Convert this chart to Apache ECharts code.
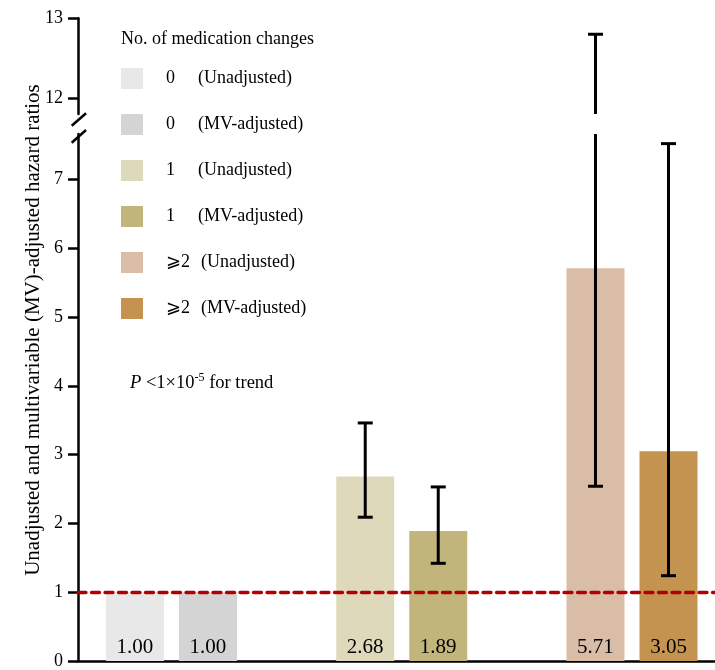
<!DOCTYPE html>
<html><head><meta charset="utf-8">
<script src="https://cdn.jsdelivr.net/npm/echarts@6/dist/echarts.min.js"></script>
<style>html,body{margin:0;padding:0;background:#fff}#c{width:715px;height:670px}</style>
</head><body><div id="c"></div>
<script>
// ---------------- data ----------------
const groups = ['0', '1', '⩾2'];
const groupPos = [0, 1, 2];
const adjustTypes = ['(Unadjusted)', '(MV-adjusted)'];
const unadjusted = [1.00, 2.68, 5.71];
const mvAdjusted = [1.00, 1.89, 3.05];
const unadjLower = [null, 2.09, 2.54];
const unadjUpper = [null, 3.46, 12.80];
const mvLower = [null, 1.42, 1.24];
const mvUpper = [null, 2.53, 7.52];
const lowerTicks = [0, 1, 2, 3, 4, 5, 6, 7];
const upperTicks = [12, 13];
const referenceLine = 1;
const legendTitle = 'No. of medication changes';
const yTitle = 'Unadjusted and multivariable (MV)-adjusted hazard ratios';
const unadjColors = ['#e8e8e8', '#dfd9bc', '#d9bda7'];
const mvColors = ['#d4d4d4', '#c1b57b', '#c4934f'];

// ---------------- style / layout ----------------
const FONT = 'Liberation Serif, Times New Roman, serif';
const BAR_W = 58, BAR_GAP = 15;
const LOWER_EXT = [0, 7.66];
const UPPER_EXT = [11.80, 13];
const X_EXT = [-0.406, 2.3605];
const AXIS_W = 2.5;

const chart = echarts.init(document.getElementById('c'), null, {renderer: 'canvas'});

const barSeries = [];
const legendNames = [];
groups.forEach((g, i) => {
  [[unadjusted, unadjColors, 'U'], [mvAdjusted, mvColors, 'MV']].forEach(([vals, cols, st], j) => {
    const name = g + ' ' + adjustTypes[j];
    legendNames.push(name);
    barSeries.push({
      name, type: 'bar', stack: st, xAxisIndex: 0, yAxisIndex: 0,
      barWidth: BAR_W, barGap: (BAR_GAP / BAR_W * 100).toFixed(1) + '%',
      itemStyle: {color: cols[i]},
      data: groupPos.map((x, k) => k === i ? [x, vals[k]] : [x, '-']),
      label: {show: true, position: 'insideBottom', distance: 3, color: '#000',
              fontFamily: FONT, fontSize: 21,
              formatter: p => Number(p.value[1]).toFixed(2)},
      emphasis: {disabled: true}, silent: true
    });
  });
});
barSeries[0].markLine = {
  silent: true, symbol: 'none', label: {show: false},
  lineStyle: {color: '#b00000', width: 3.3, type: [8, 5.5], cap: 'round'},
  data: [{yAxis: referenceLine}]
};

function errData() {
  const d = [];
  groupPos.forEach((x, i) => {
    if (unadjLower[i] != null) d.push([x, unadjLower[i], unadjUpper[i], -1]);
    if (mvLower[i] != null) d.push([x, mvLower[i], mvUpper[i], 1]);
  });
  return d;
}
function makeErrRender(ext) {
  return function (params, api) {
    const x = api.value(0), lo = api.value(1), hi = api.value(2), side = api.value(3);
    const a = Math.max(lo, ext[0]), b = Math.min(hi, ext[1]);
    if (!(a < b)) return null;
    const off = side * (BAR_W + BAR_GAP) / 2;
    const p1 = api.coord([x, a]), p2 = api.coord([x, b]);
    const cx = p1[0] + off;
    const st = {stroke: '#000', lineWidth: 3};
    const ch = [{type: 'line', shape: {x1: cx, y1: p1[1], x2: cx, y2: p2[1]}, style: st}];
    if (lo >= ext[0]) ch.push({type: 'line', shape: {x1: cx - 7.5, y1: p1[1], x2: cx + 7.5, y2: p1[1]}, style: st});
    if (hi <= ext[1]) ch.push({type: 'line', shape: {x1: cx - 7.5, y1: p2[1], x2: cx + 7.5, y2: p2[1]}, style: st});
    return {type: 'group', children: ch};
  };
}

const yAxisCommon = {
  type: 'value',
  axisLine: {show: true, onZero: false, lineStyle: {color: '#000', width: AXIS_W}},
  axisTick: {show: true, inside: false, length: 10, lineStyle: {color: '#000', width: AXIS_W}},
  axisLabel: {color: '#000', fontFamily: FONT, fontSize: 18, margin: 15},
  splitLine: {show: false}
};

const option = {
  animation: false,
  backgroundColor: '#fff',
  title: {
    text: legendTitle, left: 121, top: 30, padding: 0,
    textStyle: {fontFamily: FONT, fontSize: 18, fontWeight: 'normal', color: '#000'}
  },
  legend: {
    data: legendNames, orient: 'vertical', left: 121, top: 68, padding: 0,
    itemWidth: 22, itemHeight: 21, itemGap: 25, icon: 'rect',
    selectedMode: false,
    formatter: name => {
      const k = name.indexOf(' ');
      const g = name.slice(0, k), t = name.slice(k + 1);
      return (g.length > 1 ? '{g2|' : '{g|') + g + '}{t|' + t + '}';
    },
    textStyle: {
      color: '#000', fontFamily: FONT, fontSize: 18,
      rich: {
        g: {fontFamily: FONT, fontSize: 18, width: 32, padding: [0, 0, 0, 18]},
        g2: {fontFamily: FONT, fontSize: 18, width: 35, padding: [0, 0, 0, 18]},
        t: {fontFamily: FONT, fontSize: 18}
      }
    }
  },
  grid: [
    {left: 78, right: 0, top: 134, bottom: 5},
    {left: 78, right: 0, top: 18.3, height: 114 - 18.3}
  ],
  xAxis: [
    {type: 'value', gridIndex: 0, min: X_EXT[0], max: X_EXT[1],
     axisLine: {show: true, onZero: false, lineStyle: {color: '#000', width: AXIS_W}},
     axisTick: {show: false}, axisLabel: {show: false}, splitLine: {show: false}},
    {type: 'value', gridIndex: 1, min: X_EXT[0], max: X_EXT[1], show: false,
     splitLine: {show: false}}
  ],
  yAxis: [
    Object.assign({}, yAxisCommon, {gridIndex: 0, min: LOWER_EXT[0], max: LOWER_EXT[1], interval: 1,
      axisLabel: Object.assign({}, yAxisCommon.axisLabel, {customValues: lowerTicks}),
      axisTick: Object.assign({}, yAxisCommon.axisTick, {customValues: lowerTicks})}),
    Object.assign({}, yAxisCommon, {gridIndex: 1, min: UPPER_EXT[0], max: UPPER_EXT[1],
      axisLabel: Object.assign({}, yAxisCommon.axisLabel, {customValues: upperTicks}),
      axisTick: Object.assign({}, yAxisCommon.axisTick, {customValues: upperTicks})})
  ],
  series: barSeries.concat([
    {type: 'custom', name: 'err-lower', xAxisIndex: 0, yAxisIndex: 0, silent: true,
     renderItem: makeErrRender(LOWER_EXT), data: errData(), z: 5},
    {type: 'custom', name: 'err-upper', xAxisIndex: 1, yAxisIndex: 1, silent: true,
     renderItem: makeErrRender(UPPER_EXT), data: errData(), z: 5}
  ]),
  graphic: [
    {type: 'text', x: 33, y: 330, rotation: Math.PI / 2,
     style: {text: yTitle, fill: '#000', font: '21px ' + FONT, align: 'center', verticalAlign: 'middle'}},
    {type: 'text', left: 130, top: 372,
     style: {text: '{i|P} <1×10{s|-5} for trend', fill: '#000', font: '18.5px ' + FONT,
       rich: {i: {fontStyle: 'italic', fontSize: 18.5, fontFamily: FONT, lineHeight: 22},
              s: {fontSize: 12, fontFamily: FONT, verticalAlign: 'top', lineHeight: 22}}}},
    {type: 'line', shape: {x1: 71.7, y1: 125.7, x2: 86, y2: 113.3}, style: {stroke: '#000', lineWidth: 2.5}},
    {type: 'line', shape: {x1: 71.7, y1: 142.7, x2: 86, y2: 130}, style: {stroke: '#000', lineWidth: 2.5}}
  ]
};
chart.setOption(option);
</script>
</body></html>
